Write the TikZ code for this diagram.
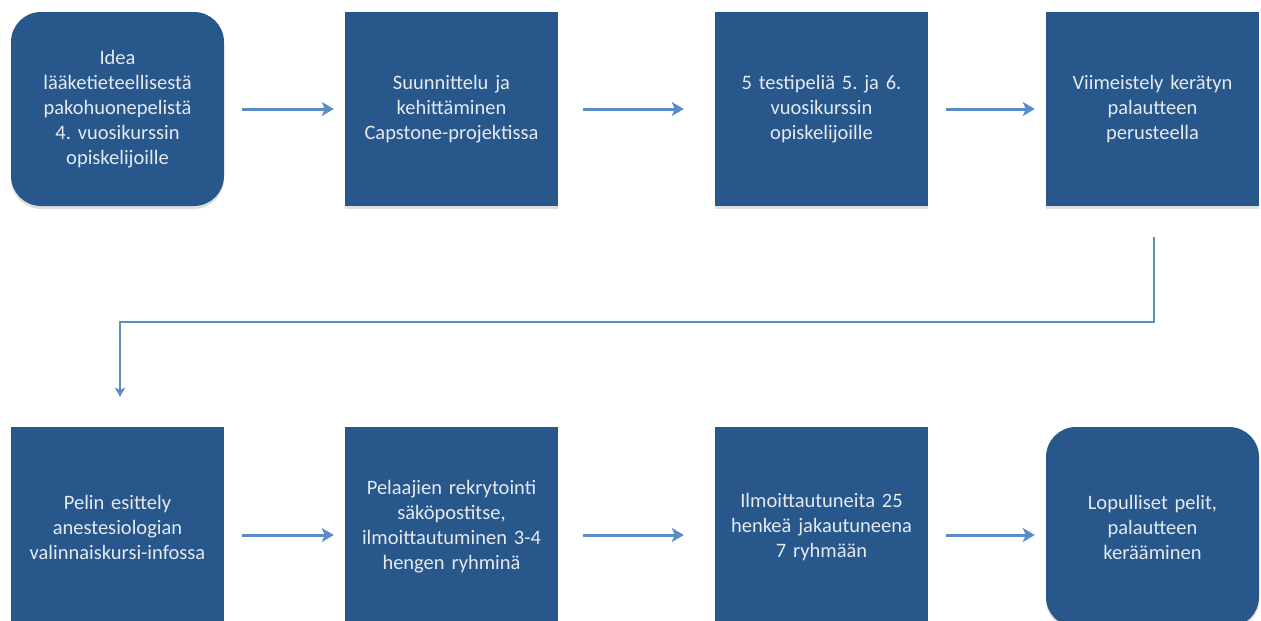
\documentclass[tikz,border=0pt]{standalone}
\usepackage{fontspec}
\setmainfont{Carlito}
\usepackage{tikz}
\usetikzlibrary{shapes, shadows, arrows.meta}

\definecolor{boxblue}{RGB}{39,87,139}
\definecolor{arrowblue}{RGB}{92,140,198}
\definecolor{boxtext}{RGB}{228,233,240}

\frenchspacing

\begin{document}
\begin{tikzpicture}[x=1pt, y=-1pt,
	stage/.style={rectangle, fill=boxblue, text=boxtext, minimum width=213pt,
		minimum height=194pt, inner sep=0pt, text width=211pt, align=center,
		font=\fontsize{20.5}{25}\selectfont,
		drop shadow={shadow xshift=0pt, shadow yshift=-3pt, opacity=0.25}},
	endstage/.style={stage, rounded corners=30pt},
	flow/.style={-{Stealth[length=12pt, width=14pt, inset=3pt]}, line width=3pt,
		arrowblue, shorten <=18pt, shorten >=11pt}]

	\useasboundingbox (0,0) rectangle (1261,621);

	\def \ytop {109}
	\def \ybot {527}

	% upper row
	\node[endstage] (idea) at (117.5,\ytop) {Idea\\ lääketieteellisestä\\ pakohuonepelistä\\ 4. vuosikurssin\\ opiskelijoille};
	\node[stage] (design) at (451.5,\ytop) {Suunnittelu ja\\ kehittäminen\\ Capstone-projektissa};
	\node[stage] (tests) at (821.5,\ytop) {5 testipeliä 5. ja 6.\\ vuosikurssin\\ opiskelijoille};
	\node[stage] (polish) at (1152.5,\ytop) {Viimeistely kerätyn\\ palautteen\\ perusteella};

	% lower row
	\node[stage, minimum height=200pt] (intro) at (117.5,\ybot) {Pelin esittely\\ anestesiologian\\ valinnaiskursi-infossa};
	\node[stage, minimum height=200pt] (recruit) at (451.5,\ybot) {Pelaajien rekrytointi\\ säköpostitse,\\ ilmoittautuminen 3-4\\ hengen ryhminä};
	\node[stage, minimum height=200pt] (groups) at (821.5,\ybot) {Ilmoittautuneita 25\\ henkeä jakautuneena\\ 7 ryhmään};
	\node[endstage, minimum height=200pt] (final) at (1152.5,\ybot) {Lopulliset pelit,\\ palautteen\\ kerääminen};

	\draw[flow] (idea) -- (design);
	\draw[flow, shorten <=25pt, shorten >=31pt] (design) -- (tests);
	\draw[flow] (tests) -- (polish);

	\draw[flow, line width=2pt, -{Stealth[length=9pt, width=10pt, inset=2pt]},
		shorten <=31pt, shorten >=30pt]
		([xshift=1pt]polish.south) -- ++(0,116) -| ([xshift=2.5pt]intro.north);

	\draw[flow] ([yshift=-8pt]intro.east) -- ([yshift=-8pt]recruit.west);
	\draw[flow, shorten <=25pt, shorten >=31pt] ([yshift=-8pt]recruit.east) -- ([yshift=-8pt]groups.west);
	\draw[flow] ([yshift=-8pt]groups.east) -- ([yshift=-8pt]final.west);

\end{tikzpicture}
\end{document}
